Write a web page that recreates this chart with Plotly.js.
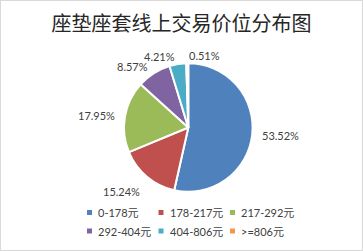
<!DOCTYPE html>
<html><head><meta charset="utf-8">
<script src="https://cdn.plot.ly/plotly-3.0.1.min.js"></script>
<style>
html,body{margin:0;padding:0;background:#fff;}
#c{width:361px;height:249px;border:1px solid #d9d9d9;}
</style></head>
<body><div id="c"></div>
<script>
var categories = ["0-178元","178-217元","217-292元","292-404元","404-806元",">=806元"];
var shares = [53.52, 15.24, 17.95, 8.57, 4.21, 0.51];
var shareLabels = ["53.52%","15.24%","17.95%","8.57%","4.21%","0.51%"];
var colors = ["#4F81BD","#C0504D","#9BBB59","#8064A2","#4BACC6","#F79646"];

var W = 361, H = 249;
var cx = 187.3, cy = 126.5, r = 64.3;   // pie geometry in pixels
var labelR = 72;                        // radius where outside labels sit
var txtFont = "Lato, 'Noto Sans CJK SC', sans-serif";

var trace = {
  type: "pie",
  labels: categories,
  values: shares,
  textinfo: "none",
  sort: false,
  direction: "clockwise",
  rotation: 0,
  marker: {colors: colors, line: {color: "#ffffff", width: 2}},
  domain: {x: [(cx - r) / W, (cx + r) / W], y: [1 - (cy + r) / H, 1 - (cy - r) / H]},
  hoverinfo: "none",
  showlegend: false
};

// outside percentage labels, placed at each slice's mid angle
var total = shares.reduce(function (a, b) { return a + b; }, 0);
var annotations = [];
var cum = 0;
for (var i = 0; i < shares.length; i++) {
  var mid = (cum + shares[i] / 2) / total * 2 * Math.PI;
  cum += shares[i];
  var s = Math.sin(mid), c = Math.cos(mid);
  var px = cx + labelR * s, py = cy - labelR * c;
  annotations.push({
    xref: "paper", yref: "paper", x: px / W, y: 1 - py / H,
    text: shareLabels[i], showarrow: false,
    xanchor: s < -0.1 ? "right" : "left",
    yanchor: c < -0.5 ? "top" : "middle",
    font: {family: txtFont, size: 11, color: "#404040"}
  });
}

// legend: 3 columns x 2 rows, swatch + text
var legX0 = 86, legDX = 71.5, legY0 = 211.5, legDY = 18.5;
var shapes = [];
for (var j = 0; j < categories.length; j++) {
  var col = j % 3, row = Math.floor(j / 3);
  var mx = legX0 + col * legDX, my = legY0 + row * legDY;
  shapes.push({type: "rect", xref: "paper", yref: "paper",
    x0: mx / W, x1: (mx + 5) / W, y0: 1 - (my - 2.5) / H, y1: 1 - (my + 2.5) / H,
    fillcolor: colors[j], line: {width: 0}});
  annotations.push({
    xref: "paper", yref: "paper", x: (mx + 9) / W, y: 1 - my / H,
    text: categories[j], showarrow: false, xanchor: "left", yanchor: "middle",
    font: {family: txtFont, size: 11, color: "#404040"}
  });
}

var layout = {
  width: W, height: H,
  margin: {l: 0, r: 0, t: 0, b: 0},
  paper_bgcolor: "#ffffff",
  title: {text: "座垫座套线上交易价位分布图", font: {family: "'Noto Sans CJK SC', sans-serif", size: 20, color: "#262626"},
          x: 0.5, xanchor: "center", y: 1 - 23 / H, yanchor: "middle"},
  showlegend: false,
  annotations: annotations,
  shapes: shapes
};
Plotly.newPlot("c", [trace], layout, {displayModeBar: false, staticPlot: true});
</script></body></html>
